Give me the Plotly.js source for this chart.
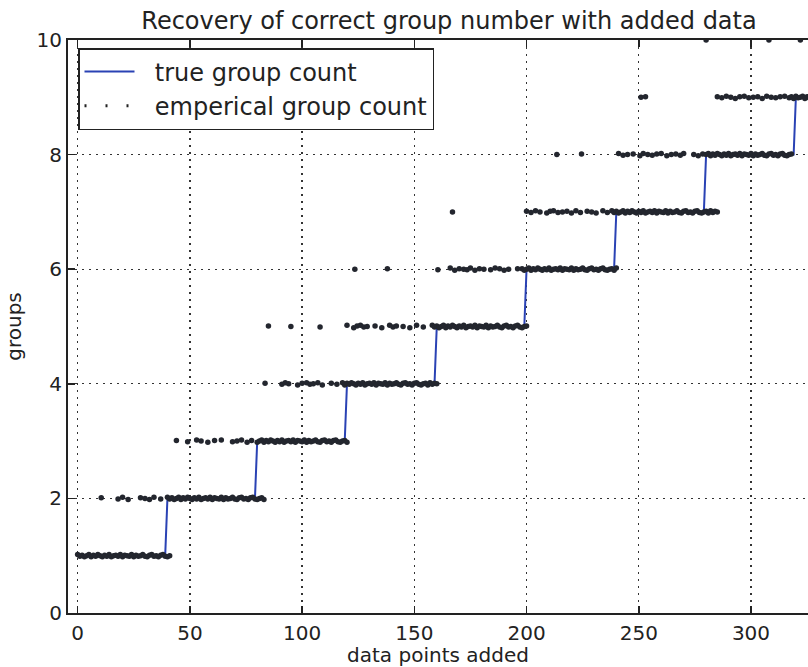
<!DOCTYPE html>
<html>
<head>
<meta charset="utf-8">
<script src="https://cdn.plot.ly/plotly-3.0.1.min.js"></script>
<style>html,body{margin:0;padding:0;background:#fff;}#chart{width:808px;height:667px;}</style>
</head>
<body>
<div id="chart"></div>
<script>
// ---- true group count (corner points of the staircase) ----
const trueX = [0,39,40,79,80,119,120,159,160,199,200,239,240,279,280,319,320,326];
const trueY = [1,1,2,2,3,3,4,4,5,5,6,6,7,7,8,8,9,9];

// ---- empirical group count, read level by level ----
const lvl1x = [0,1,2,3,4,5,6,7,8,9,10,11,12,13,14,15,16,17,18,19,20,21,22,23,24,25,26,27,28,29,30,31,32,33,34,35,36,37,38,39,40,41];
const lvl1y = [1.02,0.99,1.01,0.98,1,1.02,0.98,1.01,0.99,1.02,1,0.98,1.01,0.99,1.02,0.98,1,1.01,0.99,1.02,0.98,1.01,1,0.99,1.02,0.98,1.01,0.99,1,1.02,0.99,0.98,1.01,1.02,0.99,1,0.98,1.01,1.02,0.99,0.98,1];

const lvl2x = [10.5,18,20,22.5,28,30,32,34,37,40,41,42,43,44,45,46,47,48,49,50,51,52,53,54,55,56,57,58,59,60,61,62,63,64,65,66,67,68,69,70,71,72,73,74,75,76,77,78,79,80,81,82,83];
const lvl2y = [2.01,1.99,2.02,1.98,2.01,2,1.98,2.02,1.99,2.02,1.99,2.01,1.98,2,2.02,1.98,2.01,1.99,2.02,2,1.98,2.01,1.99,2.02,1.98,2,2.01,1.99,2.02,1.98,2.01,2,1.99,2.02,1.98,2.01,1.99,2,2.02,1.99,1.98,2.01,2.02,1.99,2,1.98,2.01,2.02,1.99,1.98,2,2.01,1.98];

const lvl3x = [44,49,53,55,58,61,64,69,71,73,75.5,77.5,80,81,82,83,84,85,86,87,88,89,90,91,92,93,94,95,96,97,98,99,100,101,102,103,104,105,106,107,108,109,110,111,112,113,114,115,116,117,118,119,120];
const lvl3y = [3.01,2.99,3.02,3,2.98,3.01,3.02,2.99,3,3.02,2.98,3.01,2.98,3,3.02,2.98,3.01,2.99,3.02,3,2.98,3.01,2.99,3.02,2.98,3,3.01,2.99,3.02,2.98,3.01,3,2.99,3.02,2.98,3.01,2.99,3,3.02,2.99,2.98,3.01,3.02,2.99,3,2.98,3.01,3.02,2.99,2.98,3,3.01,2.98];

const lvl4x = [83.5,91,92.5,94,98,100,102,103.5,105,107,109,113,115.5,118,119,120,121,122,123,124,125,126,127,128,129,130,131,132,133,134,135,136,137,138,139,140,141,142,143,144,145,146,147,148,149,150,151,152,153,154,155,156,157,158,159,160];
const lvl4y = [4.01,3.99,4.02,4,3.98,4.01,4.02,3.99,4,4.02,3.98,4.01,3.99,4.02,3.98,4.01,3.99,4.02,4,3.98,4.01,3.99,4.02,3.98,4,4.01,3.99,4.02,3.98,4.01,4,3.99,4.02,3.98,4.01,3.99,4,4.02,3.99,3.98,4.01,4.02,3.99,4,3.98,4.01,4.02,3.99,3.98,4,4.01,3.98,4.02,3.99,4.01,4];

const lvl5x = [85,95,108,120,123,124.5,126,127.5,129,132.5,135.5,139,140.5,142,145,148,151,154,158,159,160,161,162,163,164,165,166,167,168,169,170,171,172,173,174,175,176,177,178,179,180,181,182,183,184,185,186,187,188,189,190,191,192,193,194,195,196,197,198,199,200];
const lvl5y = [5.01,5,4.99,5.02,4.98,5.01,5.02,4.99,5,5.01,4.98,5.02,4.99,5.01,5,4.98,5.02,4.99,5.02,4.99,5.01,4.98,5,5.02,4.98,5.01,4.99,5.02,5,4.98,5.01,4.99,5.02,4.98,5,5.01,4.99,5.02,4.98,5.01,5,4.99,5.02,4.98,5.01,4.99,5,5.02,4.99,4.98,5.01,5.02,4.99,5,4.98,5.01,5.02,4.99,4.98,5,5.01];

const lvl6x = [123.5,138,160.5,166,168,170,172,173.5,175,177,179,181,184,186,188,190,192,196,198,199,200,201,202,203,204,205,206,207,208,209,210,211,212,213,214,215,216,217,218,219,220,221,222,223,224,225,226,227,228,229,230,231,232,233,234,235,236,237,238,239,240];
const lvl6y = [6,6.01,5.99,6.02,5.98,6.01,6,5.99,6.02,5.98,6.01,6,5.99,6.02,6.01,5.98,6,6.01,6.01,5.98,6,6.02,5.98,6.01,5.99,6.02,6,5.98,6.01,5.99,6.02,5.98,6,6.01,5.99,6.02,5.98,6.01,6,5.99,6.02,5.98,6.01,5.99,6,6.02,5.99,5.98,6.01,6.02,5.99,6,5.98,6.01,6.02,5.99,5.98,6,6.01,5.98,6.02];

const lvl7x = [167,200,202,204,206,209,210.5,212,214,216,218,220,222,224,227,229,231,234,236,238,239,240,241,242,243,244,245,246,247,248,249,250,251,252,253,254,255,256,257,258,259,260,261,262,263,264,265,266,267,268,269,270,271,272,273,274,275,276,277,278,279,280,281,282,283,284,285];
const lvl7y = [7,7.01,6.99,7.02,7,6.98,7.01,7.02,6.99,7,7.01,6.98,7.02,6.99,7.01,7,6.98,7.02,6.99,7.02,6.99,7.01,6.98,7,7.02,6.98,7.01,6.99,7.02,7,6.98,7.01,6.99,7.02,6.98,7,7.01,6.99,7.02,6.98,7.01,7,6.99,7.02,6.98,7.01,6.99,7,7.02,6.99,6.98,7.01,7.02,6.99,7,6.98,7.01,7.02,6.99,6.98,7,7.01,6.98,7.02,6.99,7.01,7];

const lvl8x = [213.5,224.5,241,243,245,247.5,250.5,252,254,256,258,260,262.5,264.5,266.5,268.5,270,274.5,276.5,278.5,280,281,282,283,284,285,286,287,288,289,290,291,292,293,294,295,296,297,298,299,300,301,302,303,304,305,306,307,308,309,310,311,312,313,314,315,316,317,318];
const lvl8y = [8,8.01,8.02,7.99,8,8.01,7.98,8.02,8,7.99,8.01,8.02,7.98,8,8.01,7.99,8.02,8,7.98,8.01,8,8.02,7.98,8.01,7.99,8.02,8,7.98,8.01,7.99,8.02,7.98,8,8.01,7.99,8.02,7.98,8.01,8,7.99,8.02,7.98,8.01,7.99,8,8.02,7.99,7.98,8.01,8.02,7.99,8,7.98,8.01,8.02,7.99,7.98,8,8.01];

const lvl9x = [251,253,285,287,289,291,293,295,297,299,301,303,305,307,309,311,313,315,317,318,319,320,321,322,323,324,325,326];
const lvl9y = [9,9.01,9.01,8.99,9.02,9,8.98,9.01,9.02,8.99,9,9.01,8.98,9.02,9,8.99,9.01,9.02,8.99,9.01,8.98,9.02,8.99,9,9.02,8.98,9.01,8.99];

const lvl10x = [280,308,322];
const lvl10y = [10,10,10];

const empX = [].concat(lvl1x,lvl2x,lvl3x,lvl4x,lvl5x,lvl6x,lvl7x,lvl8x,lvl9x,lvl10x);
const empY = [].concat(lvl1y,lvl2y,lvl3y,lvl4y,lvl5y,lvl6y,lvl7y,lvl8y,lvl9y,lvl10y);

const xTicks = [0,50,100,150,200,250,300];
const yTicks = [0,2,4,6,8,10];
const seriesNames = ['true group count', 'emperical group count'];

const FONT = 'DejaVu Sans, sans-serif';
const INK = '#222222';
const LEAD = '\u00a0\u00a0';

const traces = [
  {x: trueX, y: trueY, mode: 'lines', name: LEAD + seriesNames[0],
   line: {color: '#2a42b4', width: 2}, legendgroup: 'a'},
  {x: empX, y: empY, mode: 'markers', name: seriesNames[1], showlegend: false,
   marker: {color: '#23262e', size: 5.5, line: {width: 0}}},
  {x: [null], y: [null], mode: 'lines', name: LEAD + seriesNames[1], legendgroup: 'b',
   line: {color: INK, width: 3, dash: '2px,19px'}, hoverinfo: 'skip'}
];

const axisCommon = {
  showline: true, linecolor: INK, linewidth: 2,
  ticks: 'inside', ticklen: 7, tickwidth: 1.5, tickcolor: INK,
  showgrid: true, gridcolor: '#333', gridwidth: 1.3, griddash: '1.5px,5.5px',
  zeroline: false,
  tickfont: {family: FONT, size: 20, color: INK}
};

const layout = {
  width: 808, height: 667,
  margin: {l: 68, r: 0, t: 40, b: 54, pad: 0},
  paper_bgcolor: '#fff', plot_bgcolor: '#fff',
  showlegend: true,
  title: {text: 'Recovery of correct group number with added data',
          font: {family: FONT, size: 24, color: INK},
          x: 449/808, xref: 'container', xanchor: 'center',
          y: 1 - 21/667, yref: 'container', yanchor: 'middle'},
  xaxis: Object.assign({}, axisCommon, {
    range: [-4.3, 325.4], tickvals: xTicks, ticktext: xTicks.map(String),
    mirror: 'ticks', ticklabelstandoff: 1,
    title: {text: 'data points added', font: {family: FONT, size: 20, color: INK}, standoff: 6}
  }),
  yaxis: Object.assign({}, axisCommon, {
    range: [0, 10], tickvals: yTicks, ticktext: yTicks.map(String),
    ticklabelstandoff: 0,
    title: {text: 'groups', font: {family: FONT, size: 20, color: INK}, standoff: 10}
  }),
  legend: {
    x: (78-68)/740, y: (613-48)/573, xanchor: 'left', yanchor: 'top',
    bgcolor: '#fff', bordercolor: INK, borderwidth: 1.5,
    font: {family: FONT, size: 24, color: INK},
    itemwidth: 50, tracegroupgap: 0
  }
};

Plotly.newPlot('chart', traces, layout, {displayModeBar: false, staticPlot: true});
</script>
</body>
</html>
